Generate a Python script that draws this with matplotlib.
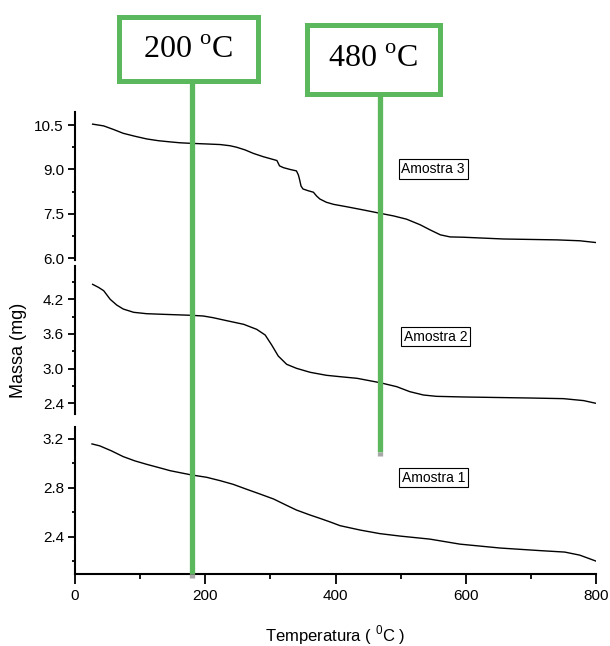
import matplotlib
matplotlib.use("Agg")
import matplotlib.pyplot as plt
from matplotlib.lines import Line2D
from matplotlib.patches import Rectangle
from matplotlib.ticker import MultipleLocator, FormatStrFormatter
from matplotlib.transforms import blended_transform_factory

plt.rcParams['font.family'] = 'Liberation Sans'
plt.rcParams['mathtext.fontset'] = 'custom'
plt.rcParams['mathtext.rm'] = 'Liberation Serif'
plt.rcParams['mathtext.sf'] = 'Liberation Sans'

# TGA curves (temperature in C, mass in mg)
temp3 = [27, 44, 59, 74, 92, 110, 128, 146, 161, 179, 202, 223, 238, 248, 261, 274,
         289, 302, 310, 312, 314, 320, 330, 340, 343, 345, 347, 350, 358, 366, 371,
         376, 386, 397, 407, 417, 443, 468, 489, 509, 530, 545, 561, 576, 596, 658,
         740, 775, 800]
mass3 = [10.53, 10.47, 10.35, 10.22, 10.12, 10.03, 9.97, 9.93, 9.90, 9.88, 9.86, 9.84,
         9.80, 9.75, 9.66, 9.54, 9.43, 9.35, 9.30, 9.21, 9.12, 9.06, 9.00, 8.95, 8.81,
         8.64, 8.44, 8.34, 8.28, 8.23, 8.10, 8.00, 7.89, 7.82, 7.78, 7.74, 7.63, 7.52,
         7.43, 7.32, 7.13, 6.96, 6.79, 6.72, 6.71, 6.65, 6.62, 6.59, 6.53]

temp2 = [27, 36, 44, 54, 64, 74, 90, 110, 136, 179, 197, 212, 233, 259, 279, 292, 302,
         312, 325, 340, 361, 386, 407, 433, 468, 494, 514, 535, 555, 596, 699, 750,
         781, 800]
mass2 = [4.459, 4.407, 4.349, 4.200, 4.101, 4.032, 3.975, 3.951, 3.940, 3.923, 3.911,
         3.882, 3.830, 3.767, 3.680, 3.582, 3.409, 3.219, 3.075, 3.006, 2.937, 2.885,
         2.861, 2.833, 2.758, 2.688, 2.602, 2.544, 2.521, 2.510, 2.492, 2.481, 2.447,
         2.400]

temp1 = [26, 38, 56, 74, 92, 110, 131, 146, 161, 179, 202, 223, 243, 264, 284, 305,
         325, 340, 361, 376, 392, 407, 438, 468, 499, 545, 591, 653, 714, 752, 775, 800]
mass1 = [3.159, 3.143, 3.102, 3.055, 3.020, 2.992, 2.962, 2.940, 2.924, 2.905, 2.886,
         2.858, 2.828, 2.787, 2.749, 2.708, 2.656, 2.618, 2.577, 2.550, 2.520, 2.490,
         2.454, 2.425, 2.405, 2.380, 2.339, 2.307, 2.286, 2.274, 2.249, 2.200]

sample_names = ['Amostra 3', 'Amostra 2', 'Amostra 1']
sample_label_pos = [(550, 9.01), (554, 3.553), (550, 2.884)]

# marker lines for the decomposition temperatures
marker_temps = [180, 469]
marker_labels = ['200', '480']

green = '#5cb85c'

fig = plt.figure(figsize=(6.1, 6.46), dpi=100)
ax3 = fig.add_axes([0.123, 0.5975, 0.8541, 0.2296])
ax2 = fig.add_axes([0.123, 0.3591, 0.8541, 0.2291])
ax1 = fig.add_axes([0.123, 0.1119, 0.8541, 0.2276])

panels = [
    (ax3, temp3, mass3, (5.94, 10.95), 1.5, 0.75),
    (ax2, temp2, mass2, (2.215, 4.776), 0.6, 0.3),
    (ax1, temp1, mass1, (2.097, 3.30), 0.4, 0.2),
]

for i, (ax, t, m, ylim, major, minor) in enumerate(panels):
    ax.plot(t, m, color='black', lw=1.0)
    ax.set_xlim(0, 800)
    ax.set_ylim(*ylim)
    ax.yaxis.set_major_locator(MultipleLocator(major))
    ax.yaxis.set_minor_locator(MultipleLocator(minor))
    ax.yaxis.set_major_formatter(FormatStrFormatter('%.1f'))
    for s in ['top', 'right']:
        ax.spines[s].set_visible(False)
    ax.spines['left'].set_linewidth(1.5)
    ax.tick_params(axis='y', which='major', direction='out', length=5, width=1.3,
                   pad=3, labelsize=11)
    ax.tick_params(axis='y', which='minor', direction='out', length=2.5, width=1.3)
    tx, ty = sample_label_pos[i]
    ax.text(tx, ty, sample_names[i], fontsize=10, ha='center', va='center',
            bbox=dict(boxstyle='square,pad=0.2', fc='white', ec='black', lw=0.8))
    if ax is not ax1:
        ax.spines['bottom'].set_visible(False)
        ax.xaxis.set_visible(False)

ax1.spines['bottom'].set_linewidth(1.5)
ax1.xaxis.set_major_locator(MultipleLocator(200))
ax1.xaxis.set_minor_locator(MultipleLocator(100))
ax1.tick_params(axis='x', which='major', direction='out', length=7, width=1.3,
                pad=4, labelsize=11)
ax1.tick_params(axis='x', which='minor', direction='out', length=3.4, width=1.3)
ax1.set_xlabel(r'Temperatura ( $^{\mathsf{0}}$C )', fontsize=12, labelpad=15)

fig.text(0.031, 0.458, 'Massa (mg)', rotation=90, fontsize=13, ha='center', va='center')

# vertical green markers with their boxed labels
trans = blended_transform_factory(ax1.transData, fig.transFigure)
line_spans = [(0.1115, 0.8715), (0.3008, 0.8514)]
box_rects = [(119.2, 16.5, 138.3, 64.3), (307.5, 25.2, 133.0, 68.3)]
text_pos = [(188.3, 51.0), (373.3, 59.2)]
for temp, lab, (y0, y1), (bx, by, bw, bh), (tx, ty) in zip(
        marker_temps, marker_labels, line_spans, box_rects, text_pos):
    fig.add_artist(Line2D([temp, temp], [y0, y1], transform=trans, color=green,
                          lw=3.8, solid_capstyle='butt', zorder=5))
    fig.add_artist(Line2D([temp, temp], [y0 - 0.0065, y0], transform=trans,
                          color='#a8a8a8', lw=3.8, solid_capstyle='butt', zorder=5))
    fig.add_artist(Rectangle((bx / 610, 1 - (by + bh) / 646), bw / 610, bh / 646,
                             transform=fig.transFigure, fill=False, ec=green, lw=3.6,
                             zorder=5))
    fig.text(tx / 610, 1 - ty / 646, lab + r' $^{\mathrm{o}}$C', fontsize=23,
             family='Liberation Serif', ha='center', va='center')

fig.savefig('out.png', dpi=100)
